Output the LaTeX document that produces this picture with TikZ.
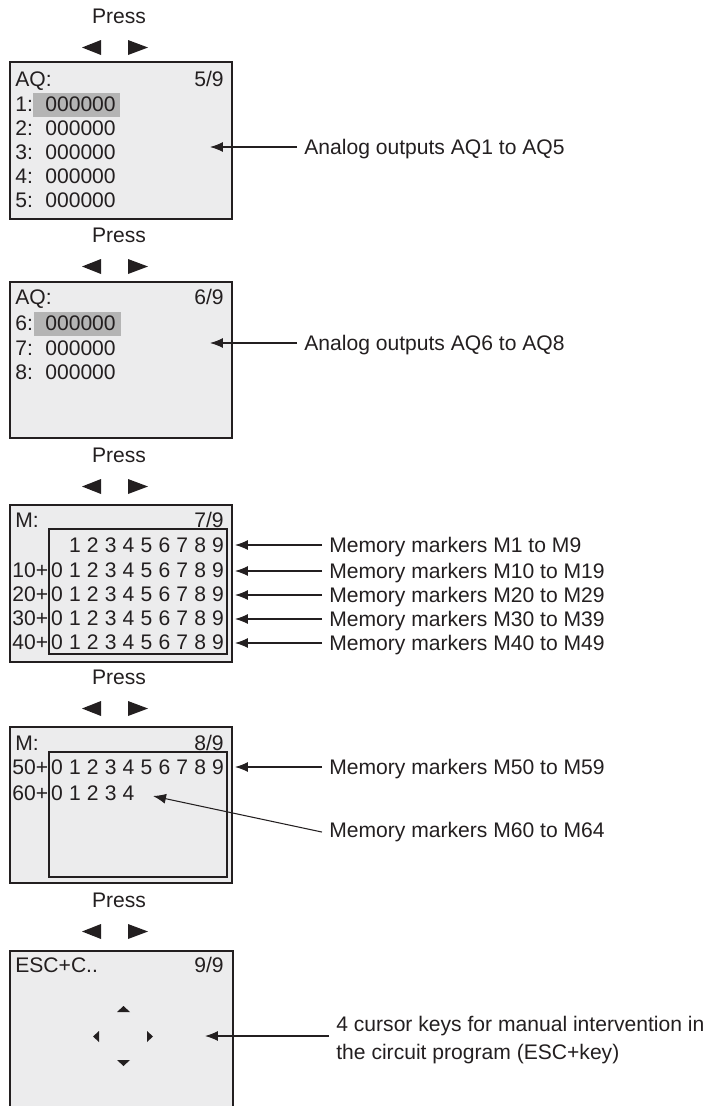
\documentclass[tikz,border=0pt]{standalone}
\usepackage{fontspec}
\setmainfont{Liberation Sans}
\usetikzlibrary{arrows.meta}
\definecolor{Cink}{RGB}{35,31,32}
\definecolor{Cpanel}{RGB}{236,236,237}
\definecolor{Cmark}{RGB}{180,180,180}

\begin{document}
\begin{tikzpicture}[x=0.02cm, y=-0.02cm,
    txt/.style={inner sep=0pt, text=Cink, font=\fontsize{12}{16}\selectfont},
    note/.style={txt, inner xsep=4pt, anchor=base west},
    screen/.style={fill=Cpanel, draw=Cink, line width=0.7pt},
    field/.style={draw=Cink, line width=0.6pt},
    key/.style={fill=Cink},
    pointer/.style={draw=Cink, line width=0.6pt, -{Latex[length=2.6mm,width=2mm]}}]
  \useasboundingbox (0,0) rectangle (712,1106);

  % Press + cursor keys above each screen
  \foreach \i/\py in {1/23.5, 2/242.5, 3/462.5, 4/684.5, 5/907.5}{
    \node[txt, anchor=base] (press\i) at (119,\py) {Press};
    \fill[key] (82,\py+24) -- (101,\py+16.5) -- (101,\py+31.5) -- cycle;
    \fill[key] (148,\py+24) -- (128,\py+16.5) -- (128,\py+31.5) -- cycle;
  }

  % Screen 5/9: AQ1..AQ5
  \draw[screen] (10,62) rectangle (232,219);
  \fill[Cmark] (33,93) rectangle (120,117);
  \node[txt, anchor=base west] (aqa) at (15,86.5) {AQ:};
  \node[txt, anchor=base east] (pga) at (224,86.5) {5/9};
  \foreach \k in {1,...,5}{
    \node[txt, anchor=base west] (aqn\k) at (15,87.5+24*\k) {\k:};
    \node[txt, anchor=base west] (aqv\k) at (45,87.5+24*\k) {000000};
  }
  \coordinate (t1) at (210,147);

  % Screen 6/9: AQ6..AQ8
  \draw[screen] (10,282) rectangle (232,438);
  \fill[Cmark] (34,312) rectangle (121,336);
  \node[txt, anchor=base west] (aqb) at (15,304.5) {AQ:};
  \node[txt, anchor=base east] (pgb) at (224,304.5) {6/9};
  \foreach \k/\n in {0/6, 1/7, 2/8}{
    \node[txt, anchor=base west] (aqn\n) at (15,330.5+24.5*\k) {\n:};
    \node[txt, anchor=base west] (aqv\n) at (45,330.5+24.5*\k) {000000};
  }
  \coordinate (t2) at (210,343);

  % Screen 7/9: M1..M49
  \draw[screen] (10,505) rectangle (232,662);
  \draw[field] (49,529) rectangle (227,654);
  \node[txt, anchor=base west] (mc) at (15,527.5) {M:};
  \node[txt, anchor=base east] (pgc) at (224,527.5) {7/9};
  \foreach \d in {1,...,9}
    \node[txt, anchor=base] (m0-\d) at (57+17.9*\d,552.5) {\d};
  \foreach \k/\yb in {1/577.5, 2/601.5, 3/625.5, 4/649.5}{
    \node[txt, anchor=base east] (mrow\k) at (48.5,\yb) {\k0+};
    \foreach \d in {0,...,9}
      \node[txt, anchor=base] (m\k-\d) at (57+17.9*\d,\yb) {\d};
  }
  \foreach \k/\ya in {3/545, 4/571, 5/595, 6/619, 7/643}
    \coordinate (t\k) at (235,\ya);

  % Screen 8/9: M50..M64
  \draw[screen] (10,727) rectangle (232,883);
  \draw[field] (49,752) rectangle (227,877);
  \node[txt, anchor=base west] (md) at (15,750.5) {M:};
  \node[txt, anchor=base east] (pgd) at (224,750.5) {8/9};
  \node[txt, anchor=base east] (mrow5) at (48.5,774.5) {50+};
  \node[txt, anchor=base east] (mrow6) at (48.5,800.5) {60+};
  \foreach \d in {0,...,9}
    \node[txt, anchor=base] (m5-\d) at (57+17.9*\d,774.5) {\d};
  \foreach \d in {0,...,4}
    \node[txt, anchor=base] (m6-\d) at (57+17.9*\d,800.5) {\d};
  \coordinate (t8) at (235,767);
  \coordinate (t9) at (153,796);

  % Screen 9/9: ESC+C (open at the bottom)
  \fill[Cpanel] (10,951) rectangle (233,1120);
  \draw[Cink, line width=0.7pt] (10,1120) -- (10,951) -- (233,951) -- (233,1120);
  \node[txt, anchor=base west] (esc) at (15,972.5) {ESC+C..};
  \node[txt, anchor=base east] (pge) at (224,972.5) {9/9};
  \fill[key] (117,1012) -- (130,1012) -- (123.5,1006) -- cycle;
  \fill[key] (117,1060) -- (130,1060) -- (123.5,1066) -- cycle;
  \fill[key] (99,1031) -- (99,1042) -- (93,1036.5) -- cycle;
  \fill[key] (147,1031) -- (147,1042) -- (153,1036.5) -- cycle;
  \coordinate (t10) at (205,1036);

  % Labels on the right
  \node[note] (l1) at (297,154.5) {Analog outputs AQ1 to AQ5};
  \node[note] (l2) at (297,350.5) {Analog outputs AQ6 to AQ8};
  \node[note] (l3) at (322,552.5) {Memory markers M1 to M9};
  \node[note] (l4) at (322,578.5) {Memory markers M10 to M19};
  \node[note] (l5) at (322,602.5) {Memory markers M20 to M29};
  \node[note] (l6) at (322,626.5) {Memory markers M30 to M39};
  \node[note] (l7) at (322,650.5) {Memory markers M40 to M49};
  \node[note] (l8) at (322,774.5) {Memory markers M50 to M59};
  \node[note] (l9) at (322,837.5) {Memory markers M60 to M64};
  \node[txt, inner xsep=4pt, anchor=west, align=left] (l10) at (329,1040)
    {4 cursor keys for manual intervention in\\the circuit program (ESC+key)};

  % Pointers
  \foreach \k in {1,...,8}
    \draw[pointer] (l\k.west |- t\k) -- (t\k);
  \draw[pointer] (l9.west) -- (t9);
  \draw[pointer] (l10.west |- t10) -- (t10);
\end{tikzpicture}
\end{document}
